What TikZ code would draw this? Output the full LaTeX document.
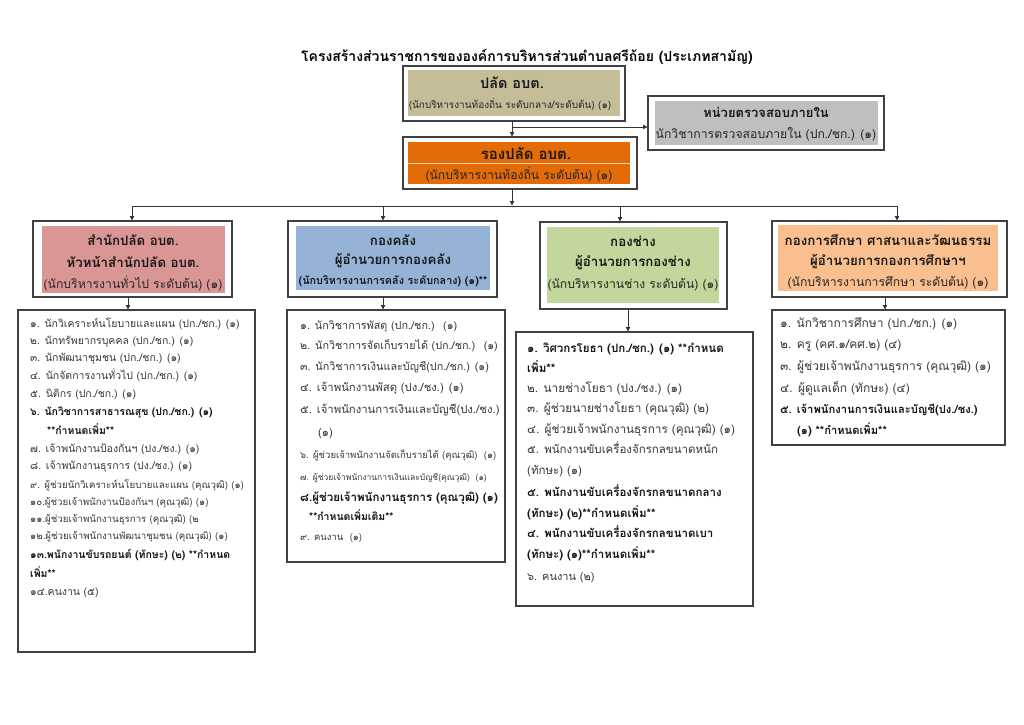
\documentclass[tikz,border=0pt]{standalone}
\usepackage{fontspec}
\setmainfont[Script=Thai]{Loma}
\usetikzlibrary{arrows.meta,fit}
\definecolor{ctan}{HTML}{C4BD97}
\definecolor{cgray}{HTML}{BFBFBF}
\definecolor{corange}{HTML}{E36C09}
\definecolor{cpink}{HTML}{DA9694}
\definecolor{cblue}{HTML}{95B3D7}
\definecolor{cgreen}{HTML}{C3D69B}
\definecolor{cpeach}{HTML}{FABF8F}
\newcommand\fs[1]{\fontsize{#1}{#1}\selectfont}
\begin{document}
\begin{tikzpicture}[x=1pt,y=-1pt,
  frame/.style={draw=black!75, line width=1.2pt, inner sep=0pt, outer sep=0pt},
  fillbox/.style={draw=none, inner sep=0pt, outer sep=0pt},
  line/.style={draw=black!80, line width=0.9pt},
  arr/.style={line, -{Latex[length=5pt,width=5pt]}},
  hd/.style={font=\bfseries\fs{13.3}, text=black!90, inner sep=0pt},
  sub/.style={font=\fs{12.2}, text=black!85, inner sep=0pt},
  it/.style={font=\fs{10.5}, text=black!78, inner sep=0pt, anchor=mid west},
  itb/.style={it, font=\bfseries\fs{10.5}, text=black!92},
  its/.style={it, font=\fs{9.7}}]
\fill[white] (0,0) rectangle (1024,724);
\useasboundingbox (0,0) rectangle (1024,724);

% title
\node[font=\bfseries\fs{14}, inner sep=0pt] (title) at (527,57)
  {โครงสร้างส่วนราชการขององค์การบริหารส่วนตำบลศรีถ้อย (ประเภทสามัญ)};

% palad
\node[frame, fit={(403,66) (625,121)}] (palad) {};
\node[fillbox, fill=ctan, fit={(408,70) (620,116)}] (paladf) {};
\node[hd, font=\bfseries\fs{14.5}] (palad1) at (512,83) {ปลัด อบต.};
\node[sub, font=\fs{10}] (palad2) at (510,104) {(นักบริหารงานท้องถิ่น ระดับกลาง/ระดับต้น) (๑)};

% audit
\node[frame, fit={(648,96) (884,150)}] (audit) {};
\node[fillbox, fill=cgray, fit={(655,101) (878,145)}] (auditf) {};
\node[hd, font=\bfseries\fs{13}] (audit1) at (766,112) {หน่วยตรวจสอบภายใน};
\node[sub] (audit2) at (766,134) {นักวิชาการตรวจสอบภายใน (ปก./ชก.) (๑)};

% rong palad
\node[frame, fit={(403,137) (637,189)}] (rong) {};
\node[fillbox, fill=corange, fit={(408,142) (630,184)}] (rongf) {};
\draw[white!70!corange, line width=0.6pt] (rongf.west |- 0,163) -- (rongf.east |- 0,163);
\node[hd, font=\bfseries\fs{15}] (rong1) at (526,153) {รองปลัด อบต.};
\node[sub] (rong2) at (519,175) {(นักบริหารงานท้องถิ่น ระดับต้น) (๑)};

% departments
\node[frame, fit={(33,221) (232,297)}] (d1) {};
\node[fillbox, fill=cpink, fit={(42,226) (225,293)}] (d1f) {};
\node[hd] (d1a) at (133,240) {สำนักปลัด อบต.};
\node[hd] (d1b) at (133,262) {หัวหน้าสำนักปลัด อบต.};
\node[sub] (d1c) at (133,284) {(นักบริหารงานทั่วไป ระดับต้น) (๑)};

\node[frame, fit={(288,221) (497,297)}] (d2) {};
\node[fillbox, fill=cblue, fit={(296,226) (490,290)}] (d2f) {};
\node[hd] (d2a) at (393,240) {กองคลัง};
\node[hd] (d2b) at (393,261) {ผู้อำนวยการกองคลัง};
\node[hd, font=\bfseries\fs{10.8}] (d2c) at (393,281) {(นักบริหารงานการคลัง ระดับกลาง) (๑)**};

\node[frame, fit={(540,222) (727,309)}] (d3) {};
\node[fillbox, fill=cgreen, fit={(547,227) (719,303)}] (d3f) {};
\node[hd] (d3a) at (633,241) {กองช่าง};
\node[hd] (d3b) at (633,263) {ผู้อำนวยการกองช่าง};
\node[sub] (d3c) at (633,285) {(นักบริหารงานช่าง ระดับต้น) (๑)};

\node[frame, fit={(772,221) (1007,297)}] (d4) {};
\node[fillbox, fill=cpeach, fit={(778,225) (998,291)}] (d4f) {};
\node[hd] (d4a) at (888,240) {กองการศึกษา ศาสนาและวัฒนธรรม};
\node[hd] (d4b) at (888,262) {ผู้อำนวยการกองการศึกษาฯ};
\node[sub] (d4c) at (888,283) {(นักบริหารงานการศึกษา ระดับต้น) (๑)};

% lists
\node[frame, fit={(18,310) (255,652)}] (l1) {};
\node[it]  (l1-1)  at (30,325) {๑. นักวิเคราะห์นโยบายและแผน (ปก./ชก.) (๑)};
\node[it]  (l1-2)  at (30,342) {๒. นักทรัพยากรบุคคล (ปก./ชก.) (๑)};
\node[it]  (l1-3)  at (30,359) {๓. นักพัฒนาชุมชน (ปก./ชก.) (๑)};
\node[it]  (l1-4)  at (30,377) {๔. นักจัดการงานทั่วไป (ปก./ชก.) (๑)};
\node[it]  (l1-5)  at (30,395) {๕. นิติกร (ปก./ชก.) (๑)};
\node[itb] (l1-6)  at (30,413) {๖. นักวิชาการสาธารณสุข (ปก./ชก.) (๑)};
\node[itb] (l1-6b) at (47,432) {**กำหนดเพิ่ม**};
\node[it]  (l1-7)  at (30,450) {๗. เจ้าพนักงานป้องกันฯ (ปง./ชง.) (๑)};
\node[it]  (l1-8)  at (30,467) {๘. เจ้าพนักงานธุรการ (ปง./ชง.) (๑)};
\node[its] (l1-9)  at (30,486) {๙. ผู้ช่วยนักวิเคราะห์นโยบายและแผน (คุณวุฒิ) (๑)};
\node[its] (l1-10) at (30,503) {๑๐.ผู้ช่วยเจ้าพนักงานป้องกันฯ (คุณวุฒิ) (๑)};
\node[its] (l1-11) at (30,520) {๑๑.ผู้ช่วยเจ้าพนักงานธุรการ (คุณวุฒิ) (๒};
\node[its] (l1-12) at (30,537) {๑๒.ผู้ช่วยเจ้าพนักงานพัฒนาชุมชน (คุณวุฒิ) (๑)};
\node[itb] (l1-13) at (30,556) {๑๓.พนักงานขับรถยนต์ (ทักษะ) (๒) **กำหนด};
\node[itb] (l1-13b) at (30,575) {เพิ่ม**};
\node[it]  (l1-14) at (30,593) {๑๔.คนงาน (๕)};

\node[frame, fit={(287,310) (505,562)}] (l2) {};
\node[it, font=\fs{10.8}]  (l2-1) at (300,327) {๑. นักวิชาการพัสดุ (ปก./ชก.) \ (๑)};
\node[it, font=\fs{10.8}]  (l2-2) at (300,347) {๒. นักวิชาการจัดเก็บรายได้ (ปก./ชก.) \ (๑)};
\node[it, font=\fs{10.8}]  (l2-3) at (300,368) {๓. นักวิชาการเงินและบัญชี(ปก./ชก.) (๑)};
\node[it, font=\fs{11.3}]  (l2-4) at (300,389) {๔. เจ้าพนักงานพัสดุ (ปง./ชง.) (๑)};
\node[it, font=\fs{11.3}]  (l2-5) at (300,411) {๕. เจ้าพนักงานการเงินและบัญชี(ปง./ชง.)};
\node[it, font=\fs{11.3}]  (l2-5b) at (318,434) {(๑)};
\node[its, font=\fs{9.5}] (l2-6) at (300,456) {๖. ผู้ช่วยเจ้าพนักงานจัดเก็บรายได้ (คุณวุฒิ) \ (๑)};
\node[its, font=\fs{8.5}] (l2-7) at (300,478) {๗. ผู้ช่วยเจ้าพนักงานการเงินและบัญชี(คุณวุฒิ) \ (๑)};
\node[itb, font=\bfseries\fs{11.5}] (l2-8) at (300,499) {๘.ผู้ช่วยเจ้าพนักงานธุรการ (คุณวุฒิ) (๑)};
\node[itb] (l2-8b) at (309,518) {**กำหนดเพิ่มเติม**};
\node[its, font=\fs{9.5}] (l2-9) at (300,538) {๙. คนงาน \ (๑)};

\node[frame, fit={(516,332) (753,606)}] (l3) {};
\node[itb, font=\bfseries\fs{11.6}] (l3-1)  at (527,350) {๑. วิศวกรโยธา (ปก./ชก.) (๑) **กำหนด};
\node[itb, font=\bfseries\fs{11.6}] (l3-1b) at (527,370) {เพิ่ม**};
\node[it, font=\fs{11.8}]  (l3-2)  at (527,390) {๒. นายช่างโยธา (ปง./ชง.) (๑)};
\node[it, font=\fs{11.8}]  (l3-3)  at (527,410) {๓. ผู้ช่วยนายช่างโยธา (คุณวุฒิ) (๒)};
\node[it, font=\fs{11.8}]  (l3-4)  at (527,431) {๔. ผู้ช่วยเจ้าพนักงานธุรการ (คุณวุฒิ) (๑)};
\node[it, font=\fs{11.5}] (l3-5)  at (527,451) {๕. พนักงานขับเครื่องจักรกลขนาดหนัก};
\node[it, font=\fs{11.5}] (l3-5b) at (527,472) {(ทักษะ) (๑)};
\node[itb, font=\bfseries\fs{11.5}] (l3-6)  at (527,494) {๕. พนักงานขับเครื่องจักรกลขนาดกลาง};
\node[itb, font=\bfseries\fs{11.5}] (l3-6b) at (527,515) {(ทักษะ) (๒)**กำหนดเพิ่ม**};
\node[itb, font=\bfseries\fs{11.5}] (l3-7)  at (527,535) {๔. พนักงานขับเครื่องจักรกลขนาดเบา};
\node[itb, font=\bfseries\fs{11.5}] (l3-7b) at (527,556) {(ทักษะ) (๑)**กำหนดเพิ่ม**};
\node[it, font=\fs{11}] (l3-8)  at (527,578) {๖. คนงาน (๒)};

\node[frame, fit={(772,310) (1005,445)}] (l4) {};
\node[it, font=\fs{12}]  (l4-1)  at (780,325) {๑. นักวิชาการศึกษา (ปก./ชก.) (๑)};
\node[it, font=\fs{12}]  (l4-2)  at (780,346) {๒. ครู (คศ.๑/คศ.๒) (๔)};
\node[it, font=\fs{12}]  (l4-3)  at (780,368) {๓. ผู้ช่วยเจ้าพนักงานธุรการ (คุณวุฒิ) (๑)};
\node[it, font=\fs{12}]  (l4-4)  at (780,390) {๔. ผู้ดูแลเด็ก (ทักษะ) (๔)};
\node[itb, font=\bfseries\fs{11.2}] (l4-5)  at (780,411) {๕. เจ้าพนักงานการเงินและบัญชี(ปง./ชง.)};
\node[itb, font=\bfseries\fs{11.2}] (l4-5b) at (797,432) {(๑) **กำหนดเพิ่ม**};

% connectors
\coordinate (j0) at (512,127);
\draw[arr] (palad.south -| j0) -- (rong.north -| j0);
\draw[arr] (j0) -- (audit.west |- j0);
\coordinate (bus) at (512,206);
\draw[arr] (rong.south -| bus) -- (bus);
\coordinate (b1) at (132,206);
\coordinate (b2) at (383,206);
\coordinate (b3) at (620,206);
\coordinate (b4) at (897,206);
\draw[line] (b1) -- (b4);
\draw[arr] (b1) -- (d1.north -| b1);
\draw[arr] (b2) -- (d2.north -| b2);
\draw[arr] (b3) -- (d3.north -| b3);
\draw[arr] (b4) -- (d4.north -| b4);
\coordinate (x1) at (128,0);
\coordinate (x2) at (383,0);
\coordinate (x3) at (628,0);
\coordinate (x4) at (885,0);
\draw[arr] (d1.south -| x1) -- (l1.north -| x1);
\draw[arr] (d2.south -| x2) -- (l2.north -| x2);
\draw[arr] (d3.south -| x3) -- (l3.north -| x3);
\draw[arr] (d4.south -| x4) -- (l4.north -| x4);
\end{tikzpicture}
\end{document}
